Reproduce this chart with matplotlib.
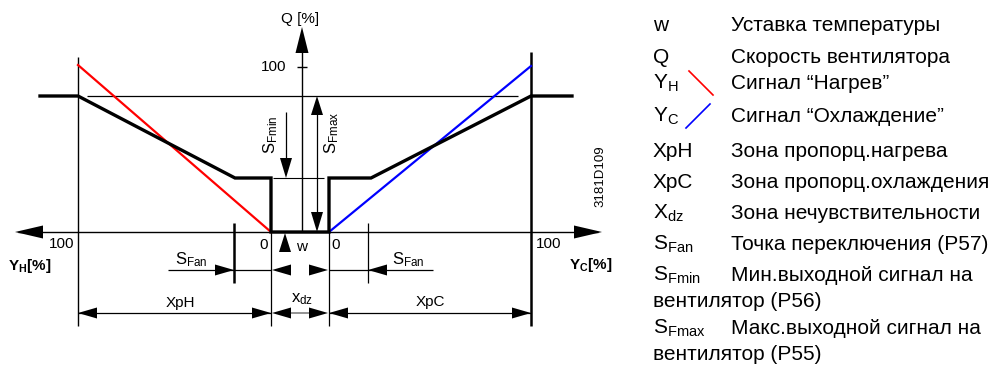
import matplotlib
matplotlib.use("Agg")
import matplotlib.pyplot as plt

plt.rcParams['font.family'] = ['Liberation Sans', 'DejaVu Sans']
plt.rcParams['mathtext.fontset'] = 'custom'
plt.rcParams['mathtext.rm'] = 'Liberation Sans'
plt.rcParams['mathtext.it'] = 'Liberation Sans:italic'
plt.rcParams['mathtext.bf'] = 'Liberation Sans:bold'

# ---- diagram data (diagram coordinates, y grows downward) ----
heating_x = [78, 271]
heating_y = [65, 232]
cooling_x = [329, 531]
cooling_y = [232, 66]
fan_x = [40, 78, 235, 271, 271, 329, 329, 371, 531, 572]
fan_y = [96, 96, 178, 178, 232, 232, 178, 178, 96, 96]

axis_y = 232
q_axis_x = 302
q100_y = 67
sfmax_y = 96
sfmin_y = 178
xph_left, xph_right = 78, 271
xpc_left, xpc_right = 329, 531
sfan_left_x, sfan_right_x = 234, 368

legend_symbols = ['w', 'Q', r'$\mathrm{Y}_{\mathrm{H}}$', r'$\mathrm{Y}_{\mathrm{C}}$',
                  'XpH', 'XpC', r'$\mathrm{X}_{\mathrm{dz}}$', r'$\mathrm{S}_{\mathrm{Fan}}$',
                  r'$\mathrm{S}_{\mathrm{Fmin}}$', '', r'$\mathrm{S}_{\mathrm{Fmax}}$', '']
legend_texts = ['Уставка температуры', 'Скорость вентилятора', 'Сигнал “Нагрев”',
                'Сигнал “Охлаждение”', 'Зона пропорц.нагрева', 'Зона пропорц.охлаждения',
                'Зона нечувствительности', 'Точка переключения (P57)',
                'Мин.выходной сигнал на', 'вентилятор (P56)',
                'Макс.выходной сигнал на', 'вентилятор (P55)']
legend_baselines = [31, 63, 89, 122, 157, 188, 219, 250, 281, 307, 334, 360]
legend_indent = [False] * 9 + [True, False, True]

W, H = 994, 367
fig = plt.figure(figsize=(W / 100, H / 100), dpi=100)
ax = fig.add_axes([0, 0, 1, 1])
ax.set_xlim(0, W)
ax.set_ylim(H, 0)
ax.axis('off')

K = 'black'


def head(tx, ty, d, length=19, half=5.5):
    if d == 'l':
        xs, ys = [tx, tx + length, tx + length], [ty, ty - half, ty + half]
    elif d == 'r':
        xs, ys = [tx, tx - length, tx - length], [ty, ty - half, ty + half]
    elif d == 'u':
        xs, ys = [tx, tx - half, tx + half], [ty, ty + length, ty + length]
    else:
        xs, ys = [tx, tx - half, tx + half], [ty, ty - length, ty - length]
    ax.fill(xs, ys, color=K, lw=0, zorder=5)


def line(xs, ys, lw=0.9, color=K, z=2):
    ax.plot(xs, ys, color=color, lw=lw, solid_capstyle='butt', zorder=z)


# main axes
line([18, 598], [axis_y, axis_y], lw=1.0)
head(15, axis_y, 'l', 28, 6.5)
head(602, axis_y, 'r', 28, 6.5)
line([q_axis_x, q_axis_x], [50, axis_y], lw=1.0)
head(q_axis_x, 27, 'u', 26, 6.5)
line([297, 307], [q100_y, q100_y], lw=1.0)

# vertical boundaries
line([xph_left, xph_left], [57, 326], lw=1.0)
line([xpc_right, xpc_right], [52, 326], lw=1.8)
line([xph_right, xph_right], [axis_y, 326], lw=0.9)
line([xpc_left, xpc_left], [axis_y, 326], lw=0.9)

# reference horizontal lines
line([87, 518], [sfmax_y, sfmax_y], lw=0.9)
line([273, 324], [sfmin_y, sfmin_y], lw=0.8)

# signals
ax.plot(heating_x, heating_y, color='#ff0000', lw=1.6, zorder=3)
ax.plot(cooling_x, cooling_y, color='#0000ff', lw=1.6, zorder=3)
ax.plot(fan_x, fan_y, color=K, lw=2.4, zorder=4, solid_joinstyle='miter')

# S_Fmin arrow
line([286, 286], [112, 160])
head(286, sfmin_y, 'd', 20, 6)
# w marker
head(285, 233, 'u', 19, 6)
# S_Fmax arrow
line([317, 317], [110, 215])
head(317, sfmax_y, 'u', 19, 6)
head(317, axis_y, 'd', 20, 6)

# S_Fan / w row
ry = 270
line([168, xph_right], [ry, ry])
line([xpc_left, 433], [ry, ry])
line([sfan_left_x, sfan_left_x], [223, 283], lw=1.8)
line([sfan_right_x, sfan_right_x], [223, 283], lw=0.9)
head(sfan_left_x, ry, 'r')
head(sfan_right_x, ry, 'l')
head(xph_right + 1, ry, 'l')
head(xpc_left - 1, ry, 'r')

# dimension row
dy = 313
line([xph_left, xph_right], [dy, dy])
line([xpc_left, xpc_right], [dy, dy])
line([290, 310], [dy, dy], color='#808080', lw=1.2)
head(xph_left, dy, 'l')
head(xph_right, dy, 'r')
head(xph_right + 1, dy, 'l')
head(xpc_left - 1, dy, 'r')
head(xpc_left, dy, 'l')
head(xpc_right, dy, 'r')

fs = 11
# diagram labels
ax.text(300, 19, 'Q [%]', fontsize=fs, ha='center', va='center')
ax.text(286, q100_y, '100', fontsize=fs, ha='right', va='center')
ax.text(271, 135, r'$\mathrm{S}_{\mathrm{Fmin}}$', fontsize=fs + 1, rotation=90,
        ha='center', va='center')
ax.text(332, 133, r'$\mathrm{S}_{\mathrm{Fmax}}$', fontsize=fs + 1, rotation=90,
        ha='center', va='center')
ax.text(264, 245, '0', fontsize=fs, ha='center', va='center')
ax.text(336, 245, '0', fontsize=fs, ha='center', va='center')
ax.text(302, 247, 'w', fontsize=fs, ha='center', va='center')
ax.text(62, 244, '100', fontsize=fs, ha='center', va='center')
ax.text(549, 244, '100', fontsize=fs, ha='center', va='center')
ax.text(30, 266, r'$\mathbf{Y}_{\mathbf{H}}\mathbf{[\%]}$', fontsize=fs, ha='center', va='center')
ax.text(591, 265, r'$\mathbf{Y}_{\mathbf{C}}\mathbf{[\%]}$', fontsize=fs, ha='center', va='center')
ax.text(191, 260, r'$\mathrm{S}_{\mathrm{Fan}}$', fontsize=fs + 1, ha='center', va='center')
ax.text(408, 260, r'$\mathrm{S}_{\mathrm{Fan}}$', fontsize=fs + 1, ha='center', va='center')
ax.text(180, 303, 'XpH', fontsize=fs, ha='center', va='center')
ax.text(430, 302, 'XpC', fontsize=fs, ha='center', va='center')
ax.text(302, 299, r'$\mathrm{x}_{\mathrm{dz}}$', fontsize=fs + 1, ha='center', va='center')
ax.text(600, 176, '3181D109', fontsize=9.5, rotation=90, ha='center', va='center')

# legend
lfs = 15
for sym, txt, yb, ind in zip(legend_symbols, legend_texts, legend_baselines, legend_indent):
    if sym:
        ax.text(653, yb, sym, fontsize=lfs, ha='left', va='baseline')
    ax.text(653 if ind else 731, yb, txt, fontsize=lfs, ha='left', va='baseline')
ax.plot([689, 713], [71, 95], color='#ff0000', lw=1.2)
ax.plot([710, 686], [104, 128], color='#0000ff', lw=1.2)

fig.savefig('out.png', dpi=100)
